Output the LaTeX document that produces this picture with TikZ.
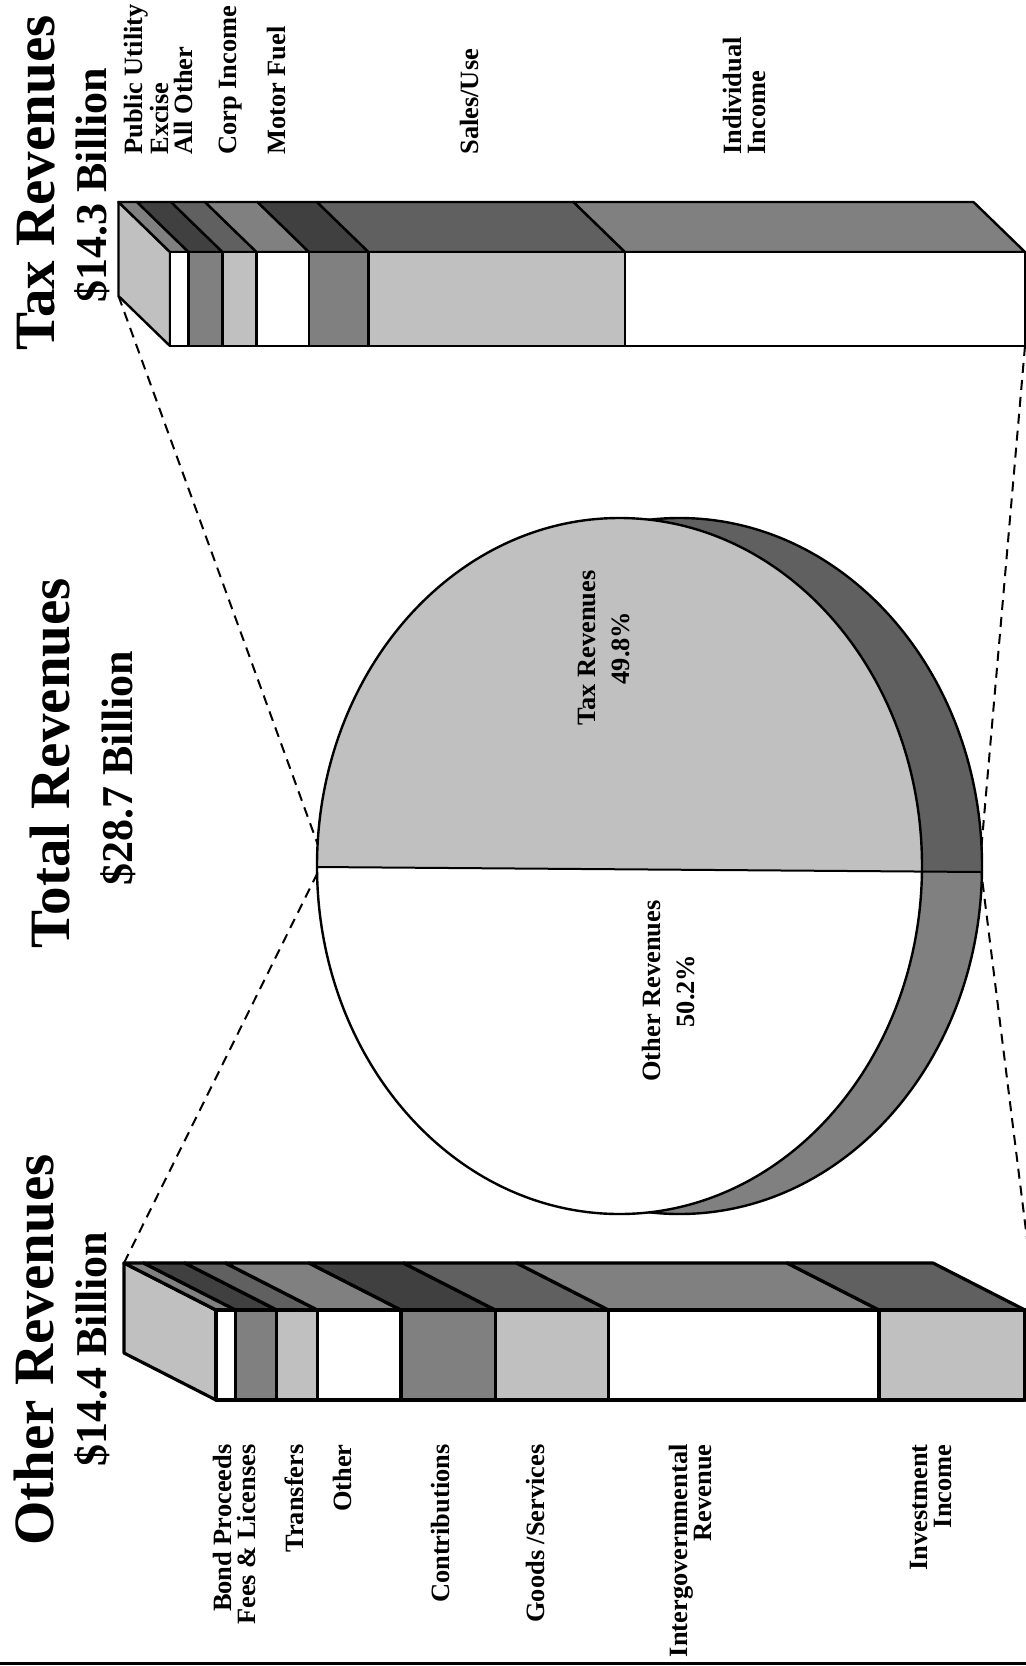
\documentclass[tikz,border=0pt]{standalone}
\usepackage{fontspec}
\setmainfont{Liberation Serif}
\definecolor{paleGray}{HTML}{C0C0C0}
\definecolor{midGray}{HTML}{808080}
\definecolor{darkGray}{HTML}{606060}
\definecolor{deepGray}{HTML}{404040}
\tikzstyle{headline} = [rotate=90, inner sep=0pt, font=\fontsize{28.5}{30}\selectfont\bfseries]
\tikzstyle{amount} = [rotate=90, inner sep=0pt, font=\fontsize{22}{24}\selectfont\bfseries]
\tikzstyle{barname} = [rotate=90, inner sep=0pt, font=\fontsize{13.2}{12}\selectfont\bfseries]
\tikzstyle{piename} = [rotate=90, inner sep=0pt, align=center, font=\fontsize{13.2}{17}\selectfont\bfseries]
\tikzstyle{taxface} = [draw=black, line width=1.2pt, line join=round]
\tikzstyle{otherface} = [draw=black, line width=1.6pt, line join=round]
\tikzstyle{pieedge} = [draw=black, line width=1.2pt]
\tikzstyle{guide} = [line width=1pt, dash pattern=on 5pt off 3.5pt]

\begin{document}
\begin{tikzpicture}[x=0.5pt, y=-0.5pt]
\useasboundingbox (0,0) rectangle (1026,1666);
\clip (0,0) rectangle (1026,1666);
\fill [white] (0,0) rectangle (1026,1666);

\node (taxtitle) [headline] at (36,183) {Tax Revenues};
\node (taxamount) [amount] at (92,185) {\$14.3 Billion};
\node (totaltitle) [headline] at (50,763) {Total Revenues};
\node (totalamount) [amount] at (118,768) {\$28.7 Billion};
\node (othertitle) [headline] at (34,1350) {Other Revenues};
\node (otheramount) [amount] at (92,1349) {\$14.4 Billion};

\filldraw [taxface, fill=paleGray] (118.5,202) -- (170,252) -- (170,346) -- (118.5,296) -- cycle;
\filldraw [taxface, fill=midGray] (170,252) -- (188.5,252) -- (137,202) -- (118.5,202) -- cycle;
\filldraw [taxface, fill=deepGray] (188.5,252) -- (222.5,252) -- (171,202) -- (137,202) -- cycle;
\filldraw [taxface, fill=darkGray] (222.5,252) -- (256.5,252) -- (205,202) -- (171,202) -- cycle;
\filldraw [taxface, fill=midGray] (256.5,252) -- (309,252) -- (257.5,202) -- (205,202) -- cycle;
\filldraw [taxface, fill=deepGray] (309,252) -- (368.5,252) -- (317,202) -- (257.5,202) -- cycle;
\filldraw [taxface, fill=darkGray] (368.5,252) -- (625,252) -- (573.5,202) -- (317,202) -- cycle;
\filldraw [taxface, fill=midGray] (625,252) -- (1025,252) -- (973.5,202) -- (573.5,202) -- cycle;
\filldraw [taxface, fill=white] (170,252) rectangle (188.5,346);
\filldraw [taxface, fill=midGray] (188.5,252) rectangle (222.5,346);
\filldraw [taxface, fill=paleGray] (222.5,252) rectangle (256.5,346);
\filldraw [taxface, fill=white] (256.5,252) rectangle (309,346);
\filldraw [taxface, fill=midGray] (309,252) rectangle (368.5,346);
\filldraw [taxface, fill=paleGray] (368.5,252) rectangle (625,346);
\filldraw [taxface, fill=white] (625,252) rectangle (1025,346);

\node (lblutility) [barname, anchor=west, align=left] at (158.7,155) {Public Utility\\Excise\\All Other};
\node (lblcorp) [barname, anchor=west] at (231,155) {Corp Income};
\node (lblmotor) [barname, anchor=west] at (276.5,155) {Motor Fuel};
\node (lblsales) [barname, anchor=west] at (469.5,155) {Sales/Use};
\node (lblindividual) [barname, anchor=west, align=left] at (744.5,155) {Individual\\Income};

\begin{scope}
\clip (0,0) -- (1026,0) -- (1026,872.3) -- (0,864.6) -- cycle;
\fill [darkGray] (679.5,866) ellipse [x radius=302.5, y radius=348];
\end{scope}
\begin{scope}
\clip (0,864.6) -- (1026,872.3) -- (1026,1666) -- (0,1666) -- cycle;
\fill [midGray] (679.5,866) ellipse [x radius=302.5, y radius=348];
\end{scope}
\draw [pieedge] (679.5,866) ellipse [x radius=302.5, y radius=348];
\begin{scope}
\clip (0,0) -- (1026,0) -- (1026,872.3) -- (0,864.6) -- cycle;
\fill [paleGray] (619.5,866) ellipse [x radius=302.5, y radius=348];
\end{scope}
\begin{scope}
\clip (0,864.6) -- (1026,872.3) -- (1026,1666) -- (0,1666) -- cycle;
\fill [white] (619.5,866) ellipse [x radius=302.5, y radius=348];
\end{scope}
\draw [pieedge] (619.5,866) ellipse [x radius=302.5, y radius=348];
\coordinate (pieL) at (317,867);
\coordinate (pieR) at (982,872);
\draw [line width=1pt] (pieL) -- (pieR);
\node (pietax) [piename] at (604,648) {Tax Revenues\\49.8\%};
\node (pieother) [piename] at (669,991) {Other Revenues\\50.2\%};

\filldraw [otherface, fill=paleGray] (124,1263) -- (216,1310) -- (216,1400) -- (124,1353) -- cycle;
\filldraw [otherface, fill=midGray] (216,1310) -- (235.6,1310) -- (143.6,1263) -- (124,1263) -- cycle;
\filldraw [otherface, fill=deepGray] (235.6,1310) -- (276.8,1310) -- (184.8,1263) -- (143.6,1263) -- cycle;
\filldraw [otherface, fill=darkGray] (276.8,1310) -- (317.4,1310) -- (225.4,1263) -- (184.8,1263) -- cycle;
\filldraw [otherface, fill=midGray] (317.4,1310) -- (401,1310) -- (309,1263) -- (225.4,1263) -- cycle;
\filldraw [otherface, fill=deepGray] (401,1310) -- (495.4,1310) -- (403.4,1263) -- (309,1263) -- cycle;
\filldraw [otherface, fill=darkGray] (495.4,1310) -- (608.6,1310) -- (516.6,1263) -- (403.4,1263) -- cycle;
\filldraw [otherface, fill=midGray] (608.6,1310) -- (879,1310) -- (787,1263) -- (516.6,1263) -- cycle;
\filldraw [otherface, fill=darkGray] (879,1310) -- (1025,1310) -- (933,1263) -- (787,1263) -- cycle;
\filldraw [otherface, fill=white] (216,1310) rectangle (235.6,1400);
\filldraw [otherface, fill=midGray] (235.6,1310) rectangle (276.8,1400);
\filldraw [otherface, fill=paleGray] (276.8,1310) rectangle (317.4,1400);
\filldraw [otherface, fill=white] (317.4,1310) rectangle (401,1400);
\filldraw [otherface, fill=midGray] (401,1310) rectangle (495.4,1400);
\filldraw [otherface, fill=paleGray] (495.4,1310) rectangle (608.6,1400);
\filldraw [otherface, fill=white] (608.6,1310) rectangle (879,1400);
\filldraw [otherface, fill=paleGray] (879,1310) rectangle (1025,1400);

\node (lblbond) [barname, anchor=east, align=right] at (234.6,1444) {Bond Proceeds\\Fees \& Licenses};
\node (lbltransfers) [barname, anchor=east] at (294.5,1444) {Transfers};
\node (lblother) [barname, anchor=east] at (342,1444) {Other};
\node (lblcontrib) [barname, anchor=east] at (440,1444) {Contributions};
\node (lblgoods) [barname, anchor=east] at (535,1444) {Goods /Services};
\node (lblintergov) [barname, anchor=east, align=right] at (690.5,1444) {Intergovernmental\\Revenue};
\node (lblinvest) [barname, anchor=east, align=right] at (931,1444) {Investment\\Income};

\coordinate (taxcorner) at (118.5,296);
\coordinate (taxend) at (1025,346);
\coordinate (othercorner) at (124,1263);
\coordinate (otherend) at (1030,1263);
\coordinate (pieNW) at (317.6,844);
\coordinate (pieSW) at (317.5,873);
\coordinate (pieNE) at (981.5,846);
\coordinate (pieSE) at (981.5,874);
\draw [guide] (taxcorner) -- (pieNW);
\draw [guide] (othercorner) -- (pieSW);
\draw [guide] (taxend) -- (pieNE);
\draw [guide] (otherend) -- (pieSE);

\draw [line width=1.5pt] (0,1663) -- (1026,1663);
\end{tikzpicture}
\end{document}
